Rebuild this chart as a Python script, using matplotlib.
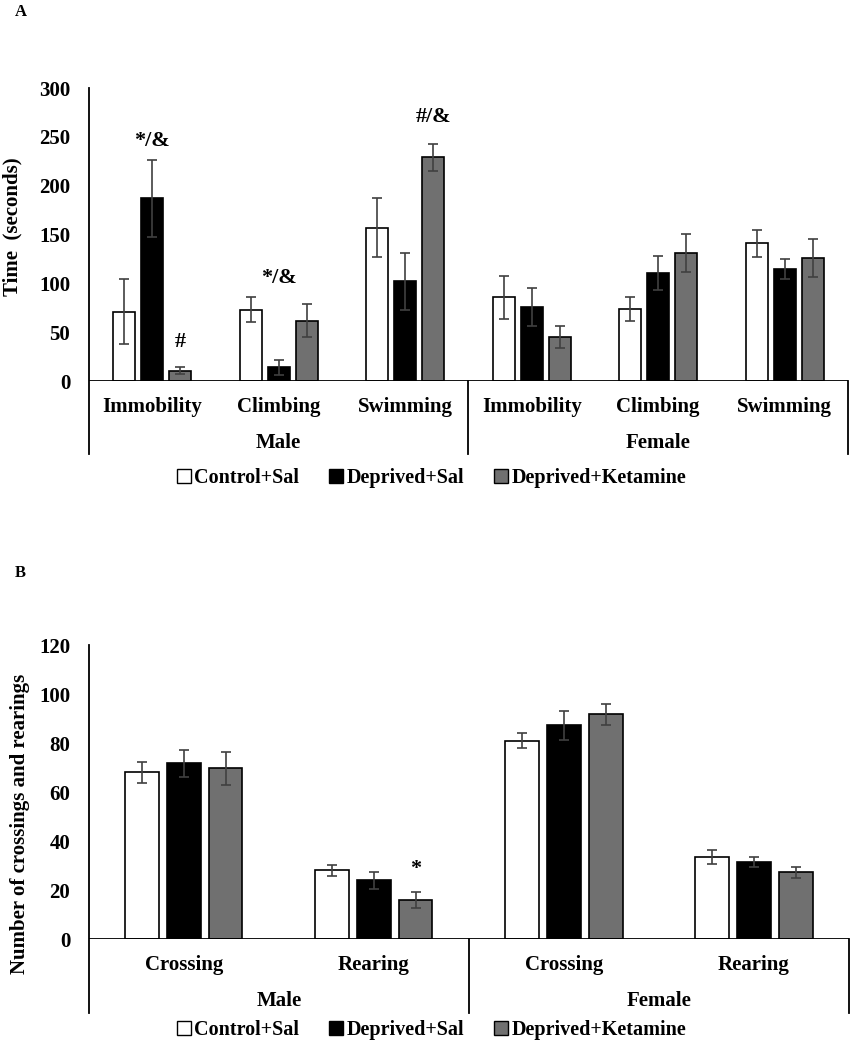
import matplotlib
matplotlib.use('Agg')
import matplotlib.pyplot as plt
from matplotlib.patches import Patch
import numpy as np

plt.rcParams['font.family'] = ['Liberation Serif', 'DejaVu Serif']
plt.rcParams['font.weight'] = 'bold'

groups = ['Control+Sal', 'Deprived+Sal', 'Deprived+Ketamine']
colors = ['white', 'black', '#707070']

# panel A: forced swim test
a_cats = ['Immobility', 'Climbing', 'Swimming', 'Immobility', 'Climbing', 'Swimming']
a_mean = {
    'Control+Sal': [71, 73, 157, 86, 74, 141],
    'Deprived+Sal': [187, 14, 102, 76, 111, 115],
    'Deprived+Ketamine': [10.5, 62, 229, 45, 131, 126],
}
a_err = {
    'Control+Sal': [33, 13, 30, 22, 12, 14],
    'Deprived+Sal': [39, 7.5, 29.5, 19.5, 17.5, 10],
    'Deprived+Ketamine': [3.5, 17, 14, 11, 19.5, 19],
}
# (category index, group index, text, height of the text centre)
a_marks = [(0, 1, '*/&', 246), (0, 2, '#', 40), (1, 1, '*/&', 106), (2, 2, '#/&', 270)]

# panel B: open field
b_cats = ['Crossing', 'Rearing', 'Crossing', 'Rearing']
b_mean = {
    'Control+Sal': [68, 28, 81, 33.6],
    'Deprived+Sal': [71.7, 23.9, 87.2, 31.3],
    'Deprived+Ketamine': [69.7, 15.8, 91.7, 27.2],
}
b_err = {
    'Control+Sal': [4.4, 2.3, 3.1, 2.8],
    'Deprived+Sal': [5.4, 3.4, 5.8, 2],
    'Deprived+Ketamine': [6.8, 3.3, 4.3, 2.1],
}
b_marks = [(1, 2, '*', 28.5)]

sexes = ['Male', 'Female']


def draw_panel(ax, cats, mean, err, marks, ymax, ystep, ylabel):
    n = len(cats)
    x = np.arange(n)
    step = 0.221
    width = 0.174
    for gi, g in enumerate(groups):
        xs = x + (gi - 1) * step
        ax.bar(xs, mean[g], width, color=colors[gi], edgecolor='black',
               linewidth=1.2, zorder=2)
        ax.errorbar(xs, mean[g], yerr=err[g], fmt='none', ecolor='#404040',
                    elinewidth=1.2, capsize=3.5, capthick=1.2, zorder=3)
    for ci, gi, txt, yv in marks:
        xv = ci + (gi - 1) * step
        ax.text(xv, yv, txt, ha='center', va='center', fontsize=16,
                fontweight='bold')
    ax.set_xlim(-0.5, n - 0.5)
    ax.set_ylim(0, ymax)
    ax.set_yticks(np.arange(0, ymax + 1, ystep))
    ax.tick_params(axis='y', length=0, pad=13.5, labelsize=15)
    ax.set_xticks([])
    for s in ['top', 'right', 'bottom', 'left']:
        ax.spines[s].set_visible(False)
    ax.axhline(0, color='black', linewidth=1.3, zorder=4)
    ax.set_ylabel(ylabel, fontsize=15, fontweight='bold')
    # category box lines below the axis
    drop = 0.25
    for xa in [0, 0.5, 1]:
        y0 = 1 if xa == 0 else 0
        ax.plot([xa, xa], [y0, -drop], color='black', linewidth=1.3,
                transform=ax.transAxes, clip_on=False)
    for ci, c in enumerate(cats):
        ax.text((ci + 0.5) / n, -0.09, c, ha='center', va='center',
                fontsize=15, fontweight='bold', transform=ax.transAxes)
    for si, s in enumerate(sexes):
        ax.text(0.25 + 0.5 * si, -0.21, s, ha='center', va='center',
                fontsize=15, fontweight='bold', transform=ax.transAxes)


fig = plt.figure(figsize=(8.53, 10.5), dpi=100)
axA = fig.add_axes([0.1043, 0.6371, 0.8898, 0.2790])
axB = fig.add_axes([0.1043, 0.1057, 0.8910, 0.2800])

draw_panel(axA, a_cats, a_mean, a_err, a_marks, 300, 50, 'Time  (seconds)')
draw_panel(axB, b_cats, b_mean, b_err, b_marks, 120, 20,
           'Number of crossings and rearings')
axA.yaxis.set_label_coords(-0.087, 0.526)
axB.yaxis.set_label_coords(-0.077, 0.39)

handles = [Patch(facecolor=c, edgecolor='black', linewidth=1) for c in colors]
for yl in [1 - 478 / 1050, 1 - 1030 / 1050]:
    fig.legend(handles, groups, loc='center', bbox_to_anchor=(0.506, yl),
               ncol=3, frameon=False, handlelength=0.7,
               handleheight=0.7, handletextpad=0.15, columnspacing=1.5,
               prop={'weight': 'bold', 'size': 14.5})

fig.text(15 / 853, 1 - 12 / 1050, 'A', fontsize=12, fontweight='bold',
         va='center', ha='left')
fig.text(15 / 853, 1 - 573 / 1050, 'B', fontsize=12, fontweight='bold',
         va='center', ha='left')

fig.savefig('out.png', dpi=100)
